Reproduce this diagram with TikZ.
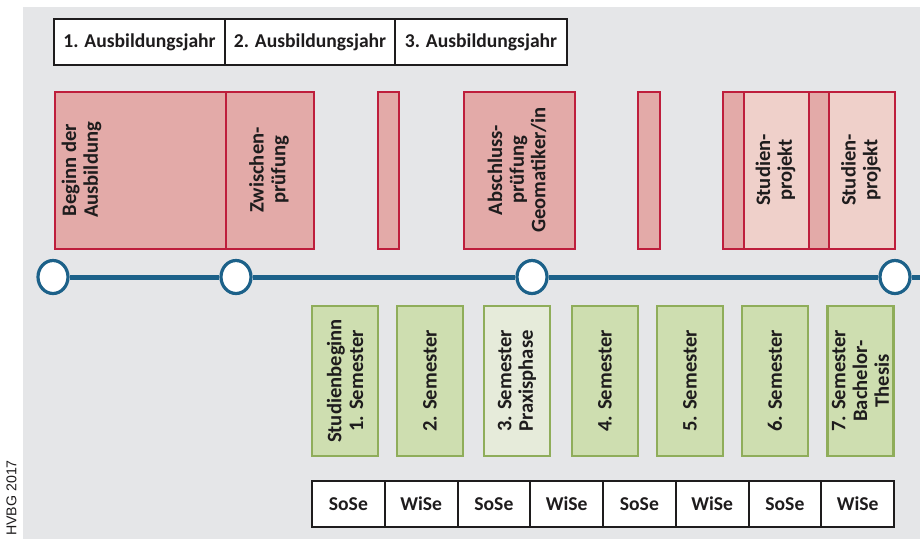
\documentclass[tikz,border=0pt]{standalone}
\usepackage{fontspec}
\setmainfont{Carlito}
\newfontfamily\hvbgfont{Liberation Sans}
\definecolor{bggray}{HTML}{E5E6E8}
\definecolor{redline}{HTML}{BE1E3C}
\definecolor{redfill}{HTML}{E3AAA8}
\definecolor{redlight}{HTML}{EFD0CA}
\definecolor{greenline}{HTML}{8FAD5A}
\definecolor{greenfill}{HTML}{CEDEB0}
\definecolor{greenpale}{HTML}{E6EBDA}
\definecolor{tlblue}{HTML}{1C6189}
\definecolor{inkdark}{HTML}{1E1C1D}
\tikzset{
  basefont/.style={font=\fontsize{19.6}{22}\selectfont\bfseries, text=inkdark},
  vfont/.style={font=\fontsize{20.6}{21.7}\selectfont\bfseries, text=inkdark},
  labelbox/.style={draw=inkdark, fill=white, line width=2pt, inner sep=0pt,
    minimum height=46pt, basefont},
  redbox/.style={draw=redline, fill=redfill, line width=2.3pt, inner sep=0pt,
    minimum height=157pt, anchor=north west},
  redlightbox/.style={redbox, fill=redlight},
  greenbox/.style={draw=greenline, fill=greenfill, line width=2.3pt, inner sep=0pt,
    rotate=90, minimum width=150pt, minimum height=66pt, align=center, vfont},
  greenpalebox/.style={greenbox, fill=greenpale},
  vtext/.style={rotate=90, align=center, vfont, inner sep=0pt},
  milestone/.style={ellipse, draw=tlblue, fill=white, line width=3.2pt,
    minimum width=30pt, minimum height=33pt, inner sep=0pt},
  timeline/.style={draw=tlblue, line width=5pt}
}
\usetikzlibrary{shapes.geometric}
\begin{document}
\begin{tikzpicture}[x=1pt, y=-1pt]
\useasboundingbox (0,0) rectangle (920,539);
\fill[white] (0,0) rectangle (920,539);
\fill[bggray] (23,7) rectangle (920,539);

% header boxes
\node[labelbox, minimum width=171pt] (h1) at (139.5,42) {1. Ausbildungsjahr};
\node[labelbox, minimum width=170pt] (h2) at (310,42) {2. Ausbildungsjahr};
\node[labelbox, minimum width=172pt] (h3) at (481,42) {3. Ausbildungsjahr};

% red boxes
\node[redbox, minimum width=171pt] (r1) at (54,91) {};
\node[vtext] (r1t) at (81.5,170) {Beginn der\\Ausbildung};
\node[redbox, minimum width=88pt] (r2) at (225,91) {};
\node[vtext] (r2t) at (269,170) {Zwischen-\\prüfung};
\node[redbox, minimum width=21pt] (r3) at (377,91) {};
\node[redbox, minimum width=111pt] (r4) at (463,91) {};
\node[vtext] (r4t) at (517,170) {Abschluss-\\prüfung\\Geomatiker/in};
\node[redbox, minimum width=22pt] (r5) at (637,91) {};
\node[redbox, minimum width=21pt] (r6) at (722,91) {};
\node[redlightbox, minimum width=65pt] (r7) at (743,91) {};
\node[vtext] (r7t) at (775.5,170) {Studien-\\projekt};
\node[redbox, minimum width=20pt] (r8) at (808,91) {};
\node[redlightbox, minimum width=66pt] (r9) at (828,91) {};
\node[vtext] (r9t) at (861,170) {Studien-\\projekt};

% timeline
\node[milestone] (c1) at (53,277) {};
\node[milestone] (c2) at (236,277) {};
\node[milestone] (c3) at (532,277) {};
\node[milestone] (c4) at (895,277) {};
\coordinate (tlend) at (921,277);
\draw[timeline] (c1) -- (c2);
\draw[timeline] (c2) -- (c3);
\draw[timeline] (c3) -- (c4);
\draw[timeline] (c4) -- (tlend);

% green boxes
\node[greenbox] (g1) at (345,381) {Studienbeginn\\1. Semester};
\node[greenbox] (g2) at (430,381) {2. Semester};
\node[greenpalebox] (g3) at (517,381) {3. Semester\\Praxisphase};
\node[greenbox] (g4) at (605,381) {4. Semester};
\node[greenbox] (g5) at (690,381) {5. Semester};
\node[greenbox] (g6) at (775,381) {6. Semester};
\node[greenbox] (g7) at (860.5,381) {7. Semester\\Bachelor-\\Thesis};

% semester labels
\foreach \lab [count=\i from 0] in {SoSe,WiSe,SoSe,WiSe,SoSe,WiSe,SoSe,WiSe}{
  \node[labelbox, minimum width=72.75pt] (s\i) at (348.375+72.75*\i,504) {\lab};
}

% credit
\node[rotate=90, font=\hvbgfont\fontsize{14.2}{16}\selectfont, text=inkdark, inner sep=0pt]
  (credit) at (11.5,498) {HVBG 2017};
\end{tikzpicture}
\end{document}
